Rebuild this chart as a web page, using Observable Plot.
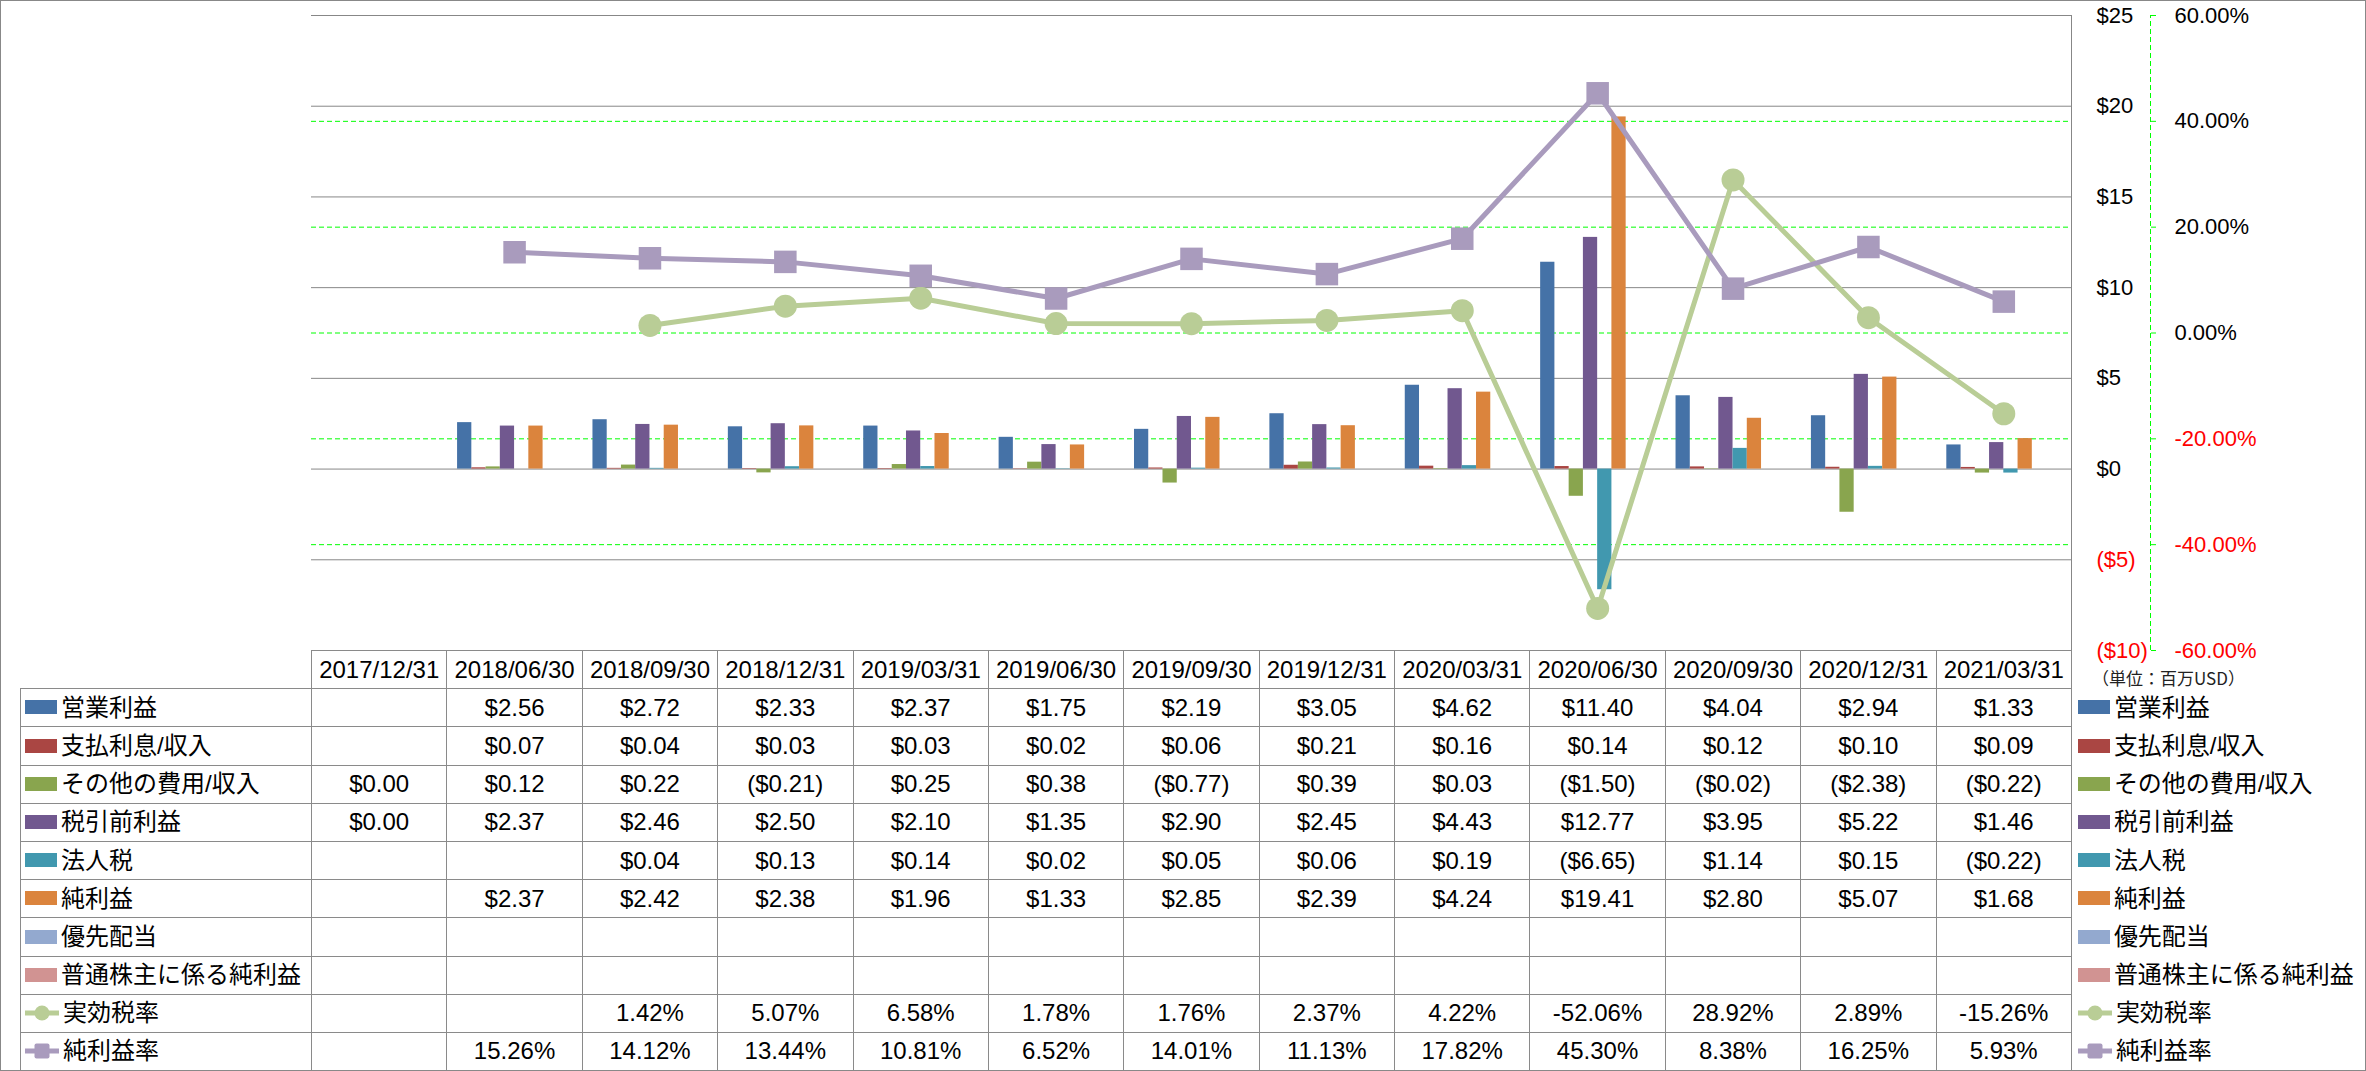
<!DOCTYPE html>
<html>
<head>
<meta charset="utf-8">
<script src="https://cdn.jsdelivr.net/npm/d3@7"></script>
<script src="https://cdn.jsdelivr.net/npm/@observablehq/plot@0.6"></script>
<style>
html, body { margin: 0; padding: 0; background: #fff; overflow: hidden; }
#wrap { position: relative; width: 2366px; height: 1071px; background: #fff; font-family: "Liberation Sans", "Noto Sans CJK JP", sans-serif; }
#frame { position: absolute; left: 0; top: 0; width: 2366px; height: 1071px; box-sizing: border-box; border: 1px solid #888; pointer-events: none; }
#plot { position: absolute; left: 0; top: 0; }
#plot svg { overflow: visible; background: transparent; }
#tbl { position: absolute; left: 20px; top: 650px; border-collapse: collapse; table-layout: fixed; font-size: 24px; color: #000; }
#tbl td { border: 1px solid #8a8a8a; padding: 0; text-align: center; white-space: nowrap; line-height: 1; overflow: visible; }
#tbl tr { height: 38.2px; }
#tbl td.blank { border: none; }
#tbl td.lab { text-align: left; padding-left: 4px; }
#tbl td.leg { border: none; text-align: left; padding-left: 6px; }
.sw { display: inline-block; width: 32px; height: 14px; vertical-align: middle; margin-right: 4px; position: relative; top: -2px; }
.lsw { display: inline-block; vertical-align: middle; margin-right: 4px; position: relative; top: -2px; }
#unit { position: absolute; left: 2092px; top: 668px; font-size: 17px; line-height: 20px; font-family: "Noto Sans CJK JP", sans-serif; color: #222; white-space: nowrap; }
</style>
</head>
<body>
<div id="wrap">
  <div id="plot"></div>
  <div id="unit"></div>
  <table id="tbl"></table>
  <div id="frame"></div>
</div>
<script>
// ---------------- data ----------------
const dates = ["2017/12/31","2018/06/30","2018/09/30","2018/12/31","2019/03/31","2019/06/30","2019/09/30","2019/12/31","2020/03/31","2020/06/30","2020/09/30","2020/12/31","2021/03/31"];

const operatingIncome = [null, 2.56, 2.72, 2.33, 2.37, 1.75, 2.19, 3.05, 4.62, 11.40, 4.04, 2.94, 1.33];
const interestExpense = [null, 0.07, 0.04, 0.03, 0.03, 0.02, 0.06, 0.21, 0.16, 0.14, 0.12, 0.10, 0.09];
const otherExpense    = [0.00, 0.12, 0.22, -0.21, 0.25, 0.38, -0.77, 0.39, 0.03, -1.50, -0.02, -2.38, -0.22];
const pretaxIncome    = [0.00, 2.37, 2.46, 2.50, 2.10, 1.35, 2.90, 2.45, 4.43, 12.77, 3.95, 5.22, 1.46];
const incomeTax       = [null, null, 0.04, 0.13, 0.14, 0.02, 0.05, 0.06, 0.19, -6.65, 1.14, 0.15, -0.22];
const netIncome       = [null, 2.37, 2.42, 2.38, 1.96, 1.33, 2.85, 2.39, 4.24, 19.41, 2.80, 5.07, 1.68];
const preferredDiv    = [null, null, null, null, null, null, null, null, null, null, null, null, null];
const netToCommon     = [null, null, null, null, null, null, null, null, null, null, null, null, null];

const effectiveTaxRate = [null, null, 1.42, 5.07, 6.58, 1.78, 1.76, 2.37, 4.22, -52.06, 28.92, 2.89, -15.26];
const netMargin        = [null, 15.26, 14.12, 13.44, 10.81, 6.52, 14.01, 11.13, 17.82, 45.30, 8.38, 16.25, 5.93];

const barNames  = ["営業利益", "支払利息/収入", "その他の費用/収入", "税引前利益", "法人税", "純利益", "優先配当", "普通株主に係る純利益"];
const barColors = ["#4572A7", "#AA4643", "#89A54E", "#71588F", "#4198AF", "#DB843D", "#93A9CF", "#D19392"];
const lineNames  = ["実効税率", "純利益率"];
const lineColors = ["#B9CD96", "#A99BBD"];

const dollarTicks = [-10, -5, 0, 5, 10, 15, 20, 25];
const pctTicks = [-60, -40, -20, 0, 20, 40, 60];
const pctGrid = [-40, -20, 0, 20, 40];
const unitLabel = "（単位：百万USD）";

// ---------------- helpers ----------------
const barValues = [operatingIncome, interestExpense, otherExpense, pretaxIncome, incomeTax, netIncome, preferredDiv, netToCommon];
const yMin = -10, yMax = 25, pMin = -60, pMax = 60;
const toY = p => yMin + (p - pMin) * (yMax - yMin) / (pMax - pMin);
const fromY = y => pMin + (y - yMin) * (pMax - pMin) / (yMax - yMin);
const fmtDollar = v => v == null ? "" : (v < 0 ? `($${Math.abs(v).toFixed(2)})` : `$${v.toFixed(2)}`);
const fmtPct = v => v == null ? "" : `${v.toFixed(2)}%`;
const fmtAxisDollar = d => d < 0 ? `($${Math.abs(d)})` : `$${d}`;
const fmtAxisPct = y => `${Math.round(fromY(y)).toFixed(2)}%`;

const nSlots = barNames.length;
const gap = 1.5;                      // gap width relative to one bar
const slot = 1 / (nSlots + gap);      // bar width in category units

const W = 2366, H = 662;
const axisFont = {fontSize: 22, fontFamily: "Liberation Sans, Arial, sans-serif", label: null};

const barMarks = barValues.map((vals, k) => {
  const rows = vals.map((v, i) => ({i, v})).filter(d => d.v != null);
  return Plot.rectY(rows, {
    x1: d => d.i + (gap / 2 + k) * slot,
    x2: d => d.i + (gap / 2 + k + 1) * slot,
    y1: 0,
    y2: "v",
    fill: barColors[k]
  });
});

const taxPts = effectiveTaxRate.map((p, i) => ({i, p})).filter(d => d.p != null);
const marginPts = netMargin.map((p, i) => ({i, p})).filter(d => d.p != null);

const chart = Plot.plot({
  width: W,
  height: H,
  marginLeft: 311,
  marginRight: 295,
  marginTop: 15,
  marginBottom: 12,
  style: {background: "transparent", overflow: "visible"},
  x: {type: "linear", domain: [0, dates.length], axis: null},
  y: {domain: [yMin, yMax], label: null},
  marks: [
    Plot.ruleY(dollarTicks, {stroke: "#878787", strokeWidth: 1}),
    Plot.ruleY(pctGrid.map(toY), {stroke: "#00ff00", strokeWidth: 1, strokeDasharray: "5,3"}),
    ...barMarks,
    Plot.ruleX([dates.length], {y1: yMin, y2: yMax, stroke: "#878787"}),
    Plot.ruleX([dates.length], {y1: yMin, y2: yMax, dx: 79, stroke: "#00ff00", strokeDasharray: "5,3"}),
    Plot.axisY(dollarTicks.filter(d => d >= 0), {anchor: "right", tickSize: 0, tickPadding: 25, tickFormat: fmtAxisDollar, fill: "#000", ...axisFont}),
    Plot.axisY(dollarTicks.filter(d => d < 0), {anchor: "right", tickSize: 0, tickPadding: 25, tickFormat: fmtAxisDollar, fill: "#ff0000", ...axisFont}),
    Plot.axisY(pctTicks.filter(p => p >= 0).map(toY), {anchor: "right", dx: 79, tickSize: 8, tickPadding: 16, stroke: "#00ff00", strokeDasharray: "5,3", tickFormat: fmtAxisPct, fill: "#000", ...axisFont}),
    Plot.axisY(pctTicks.filter(p => p < 0).map(toY), {anchor: "right", dx: 79, tickSize: 8, tickPadding: 16, stroke: "#00ff00", strokeDasharray: "5,3", tickFormat: fmtAxisPct, fill: "#ff0000", ...axisFont}),
    Plot.line(taxPts, {x: d => d.i + 0.5, y: d => toY(d.p), stroke: lineColors[0], strokeWidth: 5, strokeLinejoin: "round", strokeLinecap: "round"}),
    Plot.dot(taxPts, {x: d => d.i + 0.5, y: d => toY(d.p), r: 11.5, fill: lineColors[0]}),
    Plot.line(marginPts, {x: d => d.i + 0.5, y: d => toY(d.p), stroke: lineColors[1], strokeWidth: 5, strokeLinejoin: "round", strokeLinecap: "round"}),
    Plot.dot(marginPts, {x: d => d.i + 0.5, y: d => toY(d.p), symbol: "square", r: 12.7, fill: lineColors[1]})
  ]
});
document.getElementById("plot").appendChild(chart);

// ---------------- data table with legend keys ----------------
const tbl = document.getElementById("tbl");
const colgroup = document.createElement("colgroup");
const colW = (W - 311 - 295) / dates.length;
[291, ...dates.map(() => colW), 280].forEach(w => {
  const c = document.createElement("col");
  c.style.width = w + "px";
  colgroup.appendChild(c);
});
tbl.appendChild(colgroup);

function keyBar(color) {
  const s = document.createElement("span");
  s.className = "sw";
  s.style.background = color;
  return s;
}
function keyLine(color, square) {
  const svg = d3.create("svg").attr("width", 34).attr("height", 18).attr("class", "lsw");
  svg.append("line").attr("x1", 0).attr("x2", 34).attr("y1", 9).attr("y2", 9).attr("stroke", color).attr("stroke-width", 5);
  if (square) svg.append("rect").attr("x", 9.5).attr("y", 1.5).attr("width", 15).attr("height", 15).attr("rx", 2).attr("fill", color);
  else svg.append("circle").attr("cx", 17).attr("cy", 9).attr("r", 7.5).attr("fill", color);
  return svg.node();
}
function labelCell(cls, key, text) {
  const td = document.createElement("td");
  td.className = cls;
  td.appendChild(key);
  td.appendChild(document.createTextNode(text));
  return td;
}

// header
{
  const tr = document.createElement("tr");
  const b = document.createElement("td"); b.className = "blank"; tr.appendChild(b);
  dates.forEach(d => { const td = document.createElement("td"); td.textContent = d; tr.appendChild(td); });
  const e = document.createElement("td"); e.className = "leg"; tr.appendChild(e);
  tbl.appendChild(tr);
}
barNames.forEach((name, k) => {
  const tr = document.createElement("tr");
  tr.appendChild(labelCell("lab", keyBar(barColors[k]), name));
  barValues[k].forEach(v => { const td = document.createElement("td"); td.textContent = fmtDollar(v); tr.appendChild(td); });
  tr.appendChild(labelCell("leg", keyBar(barColors[k]), name));
  tbl.appendChild(tr);
});
[effectiveTaxRate, netMargin].forEach((vals, k) => {
  const tr = document.createElement("tr");
  tr.appendChild(labelCell("lab", keyLine(lineColors[k], k === 1), lineNames[k]));
  vals.forEach(v => { const td = document.createElement("td"); td.textContent = fmtPct(v); tr.appendChild(td); });
  tr.appendChild(labelCell("leg", keyLine(lineColors[k], k === 1), lineNames[k]));
  tbl.appendChild(tr);
});
document.getElementById("unit").textContent = unitLabel;
</script>
</body>
</html>
